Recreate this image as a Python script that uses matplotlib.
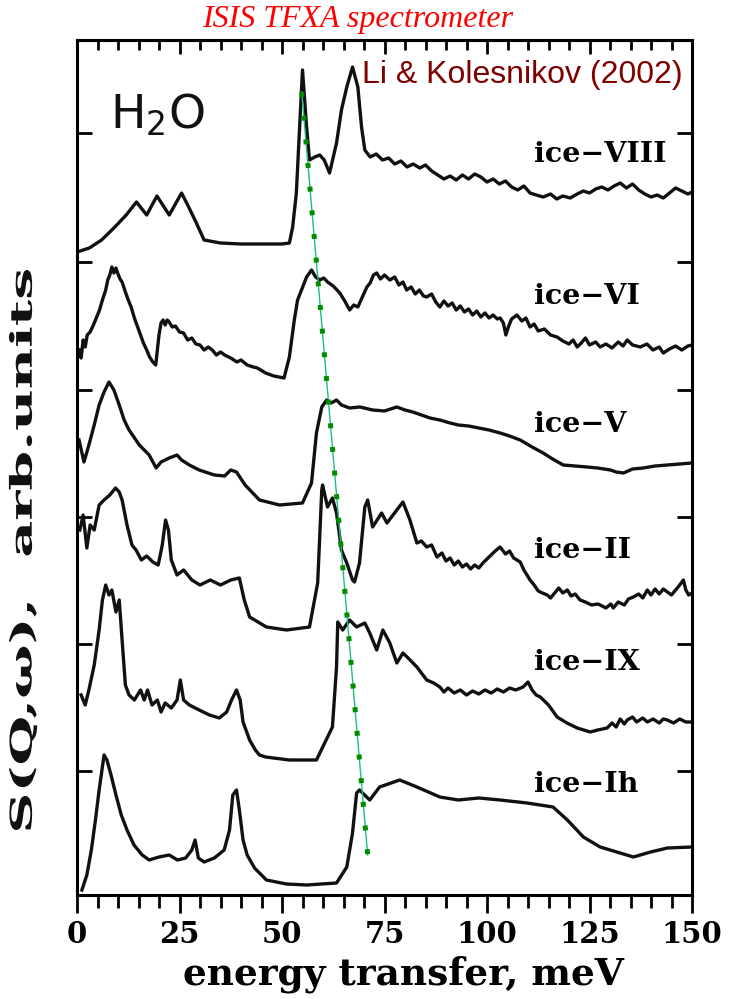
import numpy as np
import matplotlib.pyplot as plt
from matplotlib.textpath import TextPath
from matplotlib.patches import PathPatch
from matplotlib.font_manager import FontProperties
from matplotlib.transforms import Affine2D, IdentityTransform

plt.rcParams['mathtext.fontset'] = 'custom'
plt.rcParams['mathtext.rm'] = 'Liberation Sans'

# spectra, energy transfer (meV) and S(Q,w) incl. vertical offset (arb. units)
e_viii = [0, 3, 6, 9, 12, 14.5, 17, 19.5, 22.5, 25.5, 27, 29, 31, 35, 40, 45, 50, 51.8, 52.6, 53.5,
          54.3, 55, 56, 56.7, 58, 59.2, 60.3, 61.6, 63.3, 64.5, 65.8, 67.2, 68.5, 69.4, 70.2,
          71.5, 73, 74.5, 76, 77.5, 79, 80.5, 82, 83.6, 85, 86.5, 88, 89.5, 91, 92.5, 94, 95.5,
          97, 98.5, 100, 101.5, 103, 104.5, 106, 107.5, 109, 110.5, 112, 113.7, 115.5, 117, 118.5,
          120.3, 122, 123.5, 125, 126.5, 128, 129.5, 131, 132.5, 134, 135.5, 137, 138.5, 140,
          141.5, 143, 144.5, 146, 147.5, 149, 150]
s_viii = [643, 647, 655, 667, 680, 693, 680, 699, 680, 702, 690, 673, 655, 652, 651, 651, 651, 652, 668, 702,
          768, 825, 768, 735, 738, 740, 735, 722, 752, 785, 808, 828, 808, 768, 745,
          738, 741, 735, 737, 731, 734, 728, 731, 727, 730, 724, 720, 716, 719, 715, 720, 716,
          721, 718, 713, 716, 711, 714, 708, 705, 709, 702, 700, 698, 701, 696, 699,
          697, 701, 704, 702, 706, 708, 705, 709, 712, 707, 711, 705, 701, 698,
          700, 697, 702, 707, 704, 701, 703]

e_vi = [0.5, 1, 1.5, 2, 2.5, 3.2, 4, 4.8, 5.5, 6.2, 7, 7.5, 8, 8.5, 9, 9.5, 10, 10.5, 11, 11.8, 12.5,
        13.2, 14, 14.8, 15.5, 16.2, 17, 17.7, 18.5, 19.2, 19.6, 20, 20.5, 21, 21.5, 22, 22.5, 23.2,
        24, 25, 26, 27, 28, 29, 30, 31, 32, 33, 34, 35, 36, 37.5, 39, 40, 41.5, 43, 44, 46, 48,
        50.5, 51.8, 53, 53.8, 56, 57.2, 58.2, 59.2, 60.2, 61.1, 62.5, 64.1, 65.3, 66.5, 67.5, 68.5,
        69.6, 70.7, 71.5, 72.3, 73.1, 74, 75, 76.3, 77.5, 78.5, 79.5, 80.4, 81.5, 82.5, 83.5, 84.5,
        85.3, 86.5, 87.5, 88.5, 89.5, 90.5, 91.5, 92.5, 93.5, 94.5, 95.5, 96.5, 97.5, 98.5, 99.5,
        100.5, 101.5, 102.5, 103.2, 104, 104.6, 105.2, 106, 107.3, 108.5, 109.5, 110.5, 111.5,
        112.5, 114, 115.5, 117.1, 118.5, 120, 121, 122, 123, 124, 125, 126.5, 127.6, 129, 130.5,
        132, 133.2, 134.2, 135.5, 137.4, 139, 140.5, 142, 143, 144.5, 146, 147.5, 149, 150]
s_vi = [545, 537, 555, 548, 560, 563, 570, 578, 585, 595, 605, 615, 620, 628, 622, 627, 621, 616, 613, 603, 595,
        588, 577, 568, 560, 552, 545, 538, 533, 530, 545, 560, 572, 575, 570, 575, 573, 568,
        569, 563, 562, 555, 557, 551, 550, 545, 548, 545, 540, 543, 540, 537, 533, 535, 530, 528, 527, 522, 519,
        517, 538, 575, 595, 618, 625, 618, 615, 617, 613, 609, 602, 594, 585, 590, 588,
        598, 608, 612, 620, 622, 616, 620, 615, 618, 610, 613, 605, 608, 601, 605, 599,
        598, 601, 593, 588, 594, 589, 592, 585, 589, 583, 586, 580, 584, 578, 582,
        577, 580, 576, 577, 572, 560, 568, 576, 580, 574, 577, 568, 571,
        564, 566, 560, 558, 554, 551, 555, 548, 552, 557, 550, 553, 548, 551, 547,
        553, 549, 555, 550, 548, 551, 545, 548, 542, 546, 549, 545, 549, 550]

e_v = [0.5, 1.7, 2.9, 4.2, 5.4, 6.6, 7.8, 9, 10.3, 11.5, 12.7, 15.2, 17.6, 19.3, 20.5, 22.5, 24.4,
       25.5, 27.4, 29.8, 33.5, 36, 37.5, 38.9, 41, 44.5, 49.4, 55, 57.2, 58.4, 59.7, 60.9, 62,
       63.3, 64.5, 66.5, 69, 72.1, 75, 78, 80, 81.9, 84, 86.1, 88.5, 91, 93, 95.5, 98, 100.5,
       103.2, 105.5, 108.1, 111, 113.7, 116, 118.6, 121.5, 124.4, 127, 130.1, 131.5, 133.3, 135.5,
       138.1, 141, 144, 147, 150]
s_v = [455, 433, 450, 470, 490, 503, 513, 505, 490, 475, 465, 450, 440, 427, 433, 437, 440,
       435, 430, 425, 420, 419, 425, 423, 410, 395, 390, 392, 412, 462, 488, 495, 492,
       495, 490, 487, 488, 485, 484, 488, 485, 483, 480, 477, 475, 472, 470, 469, 467, 465,
       462, 459, 455, 448, 442, 436, 430, 429, 428, 427, 425, 423, 422, 426,
       427, 429, 430, 431, 432]

e_ii = [0.7, 1.5, 2.4, 3.2, 4.2, 5.4, 6.6, 8, 9.4, 10.3, 11, 12.2, 13.4, 14.4, 15.7, 17, 18.5, 19.8,
        20.8, 21.6, 22.3, 23, 24.4, 26, 28, 30, 32.5, 35, 37.5, 39.6, 40.8, 42.1, 46.2, 51.1, 56.7,
        58.7, 59.7, 59.9, 61.1, 62.3, 63.3, 64.5, 65.8, 67.2, 67.7, 68.9, 70.2, 70.9, 72.1, 74.3,
        75.6, 78, 79.5, 81.2, 82.9, 84, 85.3, 86.5, 87.8, 89, 90, 91, 92, 93, 94, 95, 96, 97, 98,
        99, 100.5, 102, 103.2, 104.5, 105.5, 106.5, 108.1, 109, 110.5, 111.5, 112.5, 113.5, 114.7,
        115.5, 116.5, 117.5, 118.5, 119.6, 120.5, 121.5, 122.7, 124, 125.5, 127, 127.6, 129,
        130.2, 130.8, 132, 133.5, 134.5, 135.7, 137, 138, 139.1, 140, 141, 142, 143, 144, 145,
        146, 147, 147.9, 148.5, 149.2, 150]
s_ii = [365, 380, 347, 370, 365, 390, 395, 400, 407, 403, 395, 370, 350, 345, 335, 339, 333, 330,
        350, 375, 365, 335, 320, 325, 315, 310, 315, 310, 315, 317, 295, 278, 268, 265, 268,
        312, 405, 410, 388, 397, 382, 345, 332, 315, 313, 332, 388, 395, 368, 382,
        372, 385, 393, 375, 352, 354, 348, 350, 338, 342, 334, 337, 330, 334, 328, 331, 326, 330, 327,
        332, 338, 344, 348, 341, 344, 337, 333, 325, 315, 310, 304, 302, 300,
        297, 302, 307, 302, 305, 299, 301, 295, 293, 290, 291, 290, 287,
        291, 287, 293, 290, 296, 298, 301, 297, 305, 300, 306, 301, 306, 303, 300,
        305, 310, 315, 305, 300, 302]

e_ix = [1, 2, 2.9, 4.2, 5.4, 6.2, 7, 7.8, 8.5, 9.5, 10.3, 11, 11.8, 12.7, 14, 15.5, 16.4, 17.2, 18.3,
        19.6, 20.5, 21.5, 23, 24.4, 25.2, 26, 27.4, 29.8, 32.3, 34.7, 36.5, 37.7, 38.9, 39.8, 40.5,
        42.1, 43.5, 44.5, 46, 51.8, 58.4, 62.3, 63.3, 63.6, 64.8, 66.5, 68.2, 70.2, 71.4, 73.1,
        74.6, 76.3, 78, 79.5, 81, 82.9, 84, 85.3, 87, 88.5, 89.5, 90.5, 92, 93.5, 95, 96.5, 98,
        99.5, 101, 102.5, 104, 105.5, 107, 108.8, 110, 111, 112, 113, 115, 117.1, 119.5, 122,
        125.2, 127, 129.3, 130.5, 131.5, 132.5, 133.5, 134.2, 135.5, 136.5, 138, 139.1, 140.5,
        142, 143, 144, 145.5, 147, 148.5, 150]
s_ix = [200, 190, 205, 230, 265, 295, 310, 300, 305, 283, 295, 255, 210, 200, 195, 205, 195, 205, 190,
        195, 183, 192, 187, 195, 215, 195, 190, 185, 180, 177, 183, 195, 205, 195, 173,
        155, 145, 140, 138, 135, 135, 168, 228, 273, 265, 275, 268, 272, 262, 245,
        265, 252, 232, 242, 236, 228, 222, 215, 212, 208, 203, 207, 202, 205, 200, 204, 201,
        205, 202, 206, 203, 207, 205, 208, 213, 205, 200, 198, 190, 178, 172, 167,
        163, 165, 167, 172, 168, 176, 171, 175, 178, 173, 177, 173, 176,
        172, 176, 175, 172, 176, 173, 173]

e_ih = [1.2, 2.4, 3.5, 4.5, 5.4, 6.6, 7.3, 8.3, 9.5, 10.8, 12.2, 13.9, 15.9, 17.6, 20, 22.5, 24.5,
        26.5, 28, 28.8, 29.6, 31, 33.5, 35.9, 37.2, 38, 38.9, 39.6, 40.5, 41.5, 43.3, 46.2, 51.1,
        56, 63.3, 65.8, 67.2, 68.2, 68.9, 71.4, 73.8, 78.7, 82.9, 88.5, 93, 98, 103.2, 109.8,
        116.1, 119.6, 123.5, 127.6, 135.7, 139.9, 144, 150]
s_ih = [5, 20, 45, 75, 105, 140, 135, 120, 100, 80, 65, 50, 40, 35, 38, 40, 35,
        37, 45, 55, 37, 33, 37, 45, 65, 100, 105, 85, 55, 40, 27, 15, 11,
        10, 12, 28, 62, 102, 105, 95, 108, 115, 108, 98, 95, 97, 95, 92,
        88, 75, 58, 48, 38, 43, 47, 48]

spectra = [(e_viii, s_viii), (e_vi, s_vi), (e_v, s_v), (e_ii, s_ii), (e_ix, s_ix), (e_ih, s_ih)]
names = ['ice\u2212VIII', 'ice\u2212VI', 'ice\u2212V', 'ice\u2212II', 'ice\u2212IX', 'ice\u2212Ih']
name_y = [740, 598, 470, 344, 232, 110]

# green guide through the libration edge
guide_e = [54.8, 70.9]
guide_s = [803, 40]

ytick_pos = [124, 251, 378, 505, 633, 762]

fig = plt.figure(figsize=(7.31, 9.99), dpi=100)
ax = fig.add_axes([77/731, 1-895/999, 615/731, 855/999])

for e, s in spectra:
    ax.plot(e, s, color='#111111', lw=2.4, solid_joinstyle='round')

ax.plot(guide_e, guide_s, color='#1fbf7a', lw=1.0, zorder=4)
ax.plot(guide_e, guide_s, color='#008c00', lw=3.6, ls=(0, (1, 3.75)), zorder=5)

for n, y in zip(names, name_y):
    ax.text(111.5, y, n, fontsize=20.5, fontweight='bold', family='DejaVu Serif', va='center')

ax.set_xlim(0, 150)
ax.set_ylim(0, 855)
for sp in ax.spines.values():
    sp.set_linewidth(2.2)

ax.set_xticks(np.arange(0, 151, 25))
ax.set_xticks(np.arange(0, 151, 5), minor=True)
ax.set_xticklabels([str(v) for v in range(0, 151, 25)], fontsize=21, fontweight='bold', family='DejaVu Serif')
ax.tick_params(axis='x', which='major', direction='out', length=13, width=2, pad=5)
ax.tick_params(axis='x', which='minor', direction='out', length=9, width=2)
ax.set_yticks(ytick_pos)
ax.tick_params(axis='y', which='major', direction='in', length=11, width=2, left=True, right=True,
               labelleft=False)

top = ax.secondary_xaxis('top')
top.set_xticks(np.arange(0, 151, 25))
top.set_xticks(np.arange(0, 151, 5), minor=True)
top.tick_params(axis='x', which='major', direction='in', length=10, width=2, labeltop=False)
top.tick_params(axis='x', which='minor', direction='in', length=7, width=2)
top.spines['top'].set_linewidth(2.2)

fig.text(403/731, 1-974/999, 'energy transfer, meV', fontsize=27, fontweight='bold',
         family='DejaVu Serif', ha='center', va='center')

# the scanned y label is elongated along its direction, so draw it as a stretched path
fp = FontProperties(family='DejaVu Serif', weight='bold')
tp = TextPath((0, 0), 'S(Q,\u03c9),  arb.units', size=30, prop=fp)
bb = tp.get_extents()
sx = 560 / bb.width
tr = (Affine2D().translate(-(bb.x0 + bb.x1) / 2, -(bb.y0 + bb.y1) / 2)
      .scale(sx, 1).rotate_deg(90).translate(23, 999 - 550))
fig.add_artist(PathPatch(tr.transform_path(tp), facecolor='#111111', edgecolor='none',
                         transform=IdentityTransform()))

fig.text(358/731, 1-20/999, 'ISIS TFXA spectrometer', color='red', fontsize=23, style='italic',
         family='Liberation Serif', ha='center', va='center')
fig.text(683/731, 1-75/999, 'Li & Kolesnikov (2002)', color='#800000', fontsize=23,
         family='Liberation Sans', ha='right', va='center')
fig.text(110/731, 1-128/999, r'$\mathregular{H_2O}$', fontsize=34, color='#111111', ha='left', va='baseline')

fig.savefig('out.png', dpi=100)
